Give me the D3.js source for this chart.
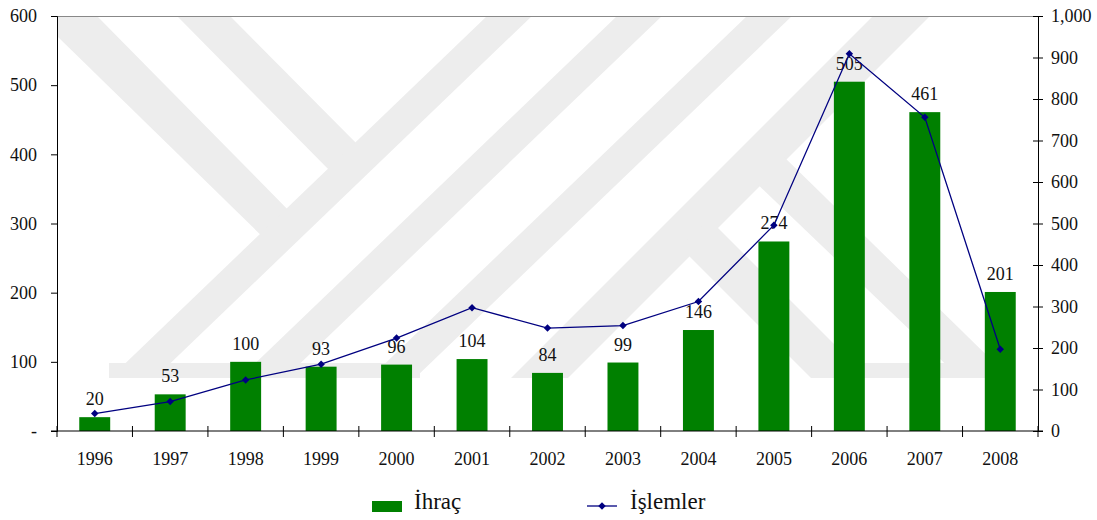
<!DOCTYPE html>
<html>
<head>
<meta charset="utf-8">
<script src="https://cdn.jsdelivr.net/npm/d3@7/dist/d3.min.js"></script>
<style>
    body { margin: 0; background: #fff; }
    svg { display: block; font-family: "Liberation Serif", "Times New Roman", serif; }
</style>
</head>
<body>
<svg id="chart" width="1097" height="520"></svg>
<script>
var years = ["1996", "1997", "1998", "1999", "2000", "2001", "2002", "2003", "2004", "2005", "2006", "2007", "2008"];
var ihrac = [20, 53, 100, 93, 96, 104, 84, 99, 146, 274, 505, 461, 201];
var islemler = [42, 71, 123, 161, 224, 297, 248, 254, 312, 496, 909, 756, 197];
var leftTicks = [0, 100, 200, 300, 400, 500, 600];
var rightTicks = [0, 100, 200, 300, 400, 500, 600, 700, 800, 900, 1000];
var seriesNames = ["İhraç", "İşlemler"];

var svg = d3.select("#chart");
// plot box (window.top is reserved, so prefixed names)
var pLeft = 57, pRight = 1038, pTop = 16, pBottom = 431;

var x = d3.scaleBand().domain(years).range([pLeft, pRight]).paddingInner(0.59).paddingOuter(0.295);
var yL = d3.scaleLinear().domain([0, 600]).range([pBottom, pTop]);
var yR = d3.scaleLinear().domain([0, 1000]).range([pBottom, pTop]);

// background watermark (thesis centre logo), rough shapes
var wm = [
    [[97, 16], [300, 222], [270, 244], [57, 36], [57, 16]],
    [[177, 16], [230, 16], [370, 157], [335, 176]],
    [[487, 16], [532, 16], [155, 378], [110, 378]],
    [[617, 16], [662, 16], [285, 378], [240, 378]],
    [[747, 16], [792, 16], [415, 378], [370, 378]],
    [[873, 16], [930, 16], [568, 378], [511, 378]],
    [[680, 247], [709, 219], [868, 378], [811, 378]],
    [[752, 179], [779, 152], [1010, 378], [960, 378]],
    [[109, 363], [420, 363], [420, 378], [109, 378]],
    [[811, 363], [960, 363], [960, 378], [811, 378]]
];
svg.append("defs").append("clipPath").attr("id", "plotclip")
    .append("rect").attr("x", pLeft).attr("y", pTop).attr("width", pRight - pLeft).attr("height", 378 - pTop);
svg.append("g").attr("clip-path", "url(#plotclip)")
    .selectAll("polygon").data(wm).enter().append("polygon")
    .attr("points", function (d) { return d.map(function (p) { return p.join(","); }).join(" "); })
    .attr("fill", "#ededed");

// top border
svg.append("line").attr("x1", pLeft).attr("x2", pRight).attr("y1", pTop + 0.5).attr("y2", pTop + 0.5)
    .attr("stroke", "#888").attr("stroke-width", 1);

// bars
svg.append("g").selectAll("rect").data(years).enter().append("rect")
    .attr("x", function (d) { return x(d); })
    .attr("width", x.bandwidth())
    .attr("y", function (d, i) { return yL(ihrac[i]); })
    .attr("height", function (d, i) { return pBottom - yL(ihrac[i]); })
    .attr("fill", "#008000");

// bar value labels
svg.append("g").selectAll("text").data(years).enter().append("text")
    .attr("x", function (d) { return x(d) + x.bandwidth() / 2; })
    .attr("y", function (d, i) { return yL(ihrac[i]) - 12; })
    .attr("text-anchor", "middle")
    .attr("font-size", 18)
    .attr("fill", "#111")
    .text(function (d, i) { return ihrac[i]; });

// line
var line = d3.line()
    .x(function (d, i) { return x(years[i]) + x.bandwidth() / 2; })
    .y(function (d) { return yR(d); });
svg.append("path").datum(islemler).attr("d", line)
    .attr("fill", "none").attr("stroke", "#000080").attr("stroke-width", 1.3);
svg.append("g").selectAll("path").data(islemler).enter().append("path")
    .attr("d", d3.symbol().type(d3.symbolSquare).size(28))
    .attr("transform", function (d, i) {
        return "translate(" + (x(years[i]) + x.bandwidth() / 2) + "," + yR(d) + ") rotate(45)";
    })
    .attr("fill", "#000080");

// axes
var axL = d3.axisLeft(yL).tickValues(leftTicks).tickSize(6).tickPadding(14)
    .tickFormat(function (d) { return d === 0 ? "-" : d; });
var gL = svg.append("g").attr("transform", "translate(" + pLeft + ",0)").call(axL);

var axR = d3.axisRight(yR).tickValues(rightTicks).tickSize(5).tickPadding(8).tickFormat(d3.format(","));
var gR = svg.append("g").attr("transform", "translate(" + pRight + ",0)").call(axR);
gR.selectAll(".tick line").attr("x1", -5);

var xTicks = d3.range(years.length + 1).map(function (i) { return pLeft + i * x.step(); });
var gX = svg.append("g");
gX.append("line").attr("x1", pLeft - 6).attr("x2", pRight + 5).attr("y1", pBottom).attr("y2", pBottom)
    .attr("stroke", "#000");
gX.selectAll(".xt").data(xTicks).enter().append("line").attr("class", "xt")
    .attr("x1", function (d) { return d; }).attr("x2", function (d) { return d; })
    .attr("y1", pBottom - 5).attr("y2", pBottom + 6).attr("stroke", "#000");
gX.selectAll("text").data(years).enter().append("text")
    .attr("x", function (d) { return x(d) + x.bandwidth() / 2; })
    .attr("y", 465)
    .attr("text-anchor", "middle")
    .attr("font-size", 18)
    .attr("fill", "#111")
    .text(function (d) { return d; });

[gL, gR].forEach(function (g) {
    g.select(".domain").attr("stroke", "#000");
    g.selectAll(".tick line").attr("stroke", "#000");
    g.selectAll("text").attr("font-size", 18).attr("fill", "#111")
        .attr("font-family", "Liberation Serif, serif");
});

// legend
var lg = svg.append("g");
lg.append("rect").attr("x", 372).attr("y", 501).attr("width", 30).attr("height", 11).attr("fill", "#008000");
lg.append("text").attr("x", 414).attr("y", 509).attr("font-size", 23).attr("fill", "#111").text(seriesNames[0]);
lg.append("line").attr("x1", 587).attr("x2", 617).attr("y1", 506).attr("y2", 506)
    .attr("stroke", "#000080").attr("stroke-width", 1.3);
lg.append("path").attr("d", d3.symbol().type(d3.symbolSquare).size(28))
    .attr("transform", "translate(602,506) rotate(45)").attr("fill", "#000080");
lg.append("text").attr("x", 630).attr("y", 509).attr("font-size", 23).attr("fill", "#111").text(seriesNames[1]);
</script>
</body>
</html>
